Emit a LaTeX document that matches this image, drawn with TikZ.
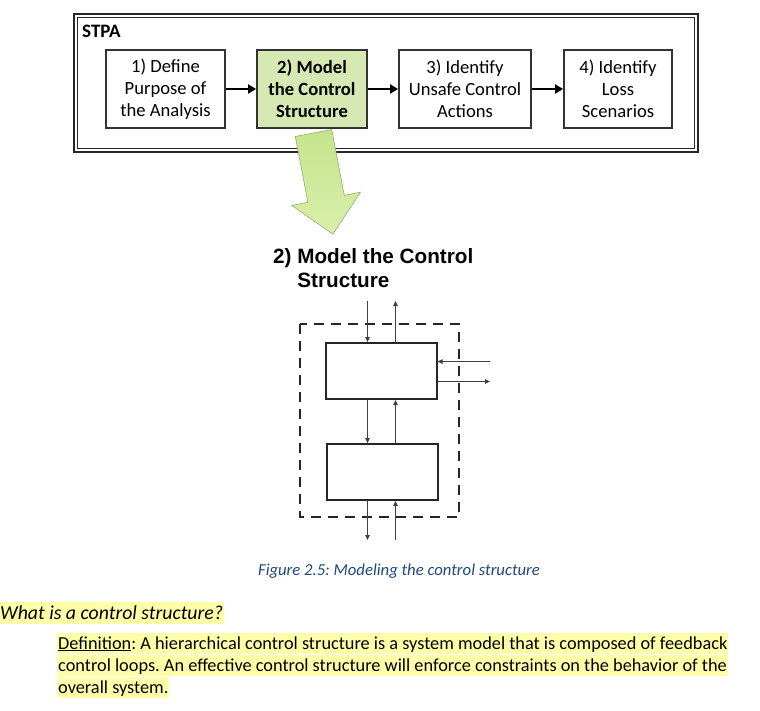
\documentclass[tikz,border=0pt]{standalone}
\usepackage{fontspec}
\setmainfont{Carlito}
\newfontfamily\headfont{Liberation Sans}
\usetikzlibrary{positioning, arrows.meta, calc}
\definecolor{stepgreen}{RGB}{214,233,178}
\definecolor{arrowgreen}{RGB}{198,228,140}
\definecolor{arrowgreenlt}{RGB}{216,239,172}
\definecolor{arrowedge}{RGB}{150,175,110}
\definecolor{captionblue}{RGB}{31,73,125}
\definecolor{hlyellow}{RGB}{255,255,170}
\frenchspacing

\begin{document}
\begin{tikzpicture}[x=1pt, y=-1pt,
  font=\fontsize{18.6}{22}\selectfont,
  phase/.style={draw=black!80, line width=1.8pt, minimum height=78pt,
    align=center, inner sep=0pt, fill=white},
  block/.style={draw=black!85, line width=1.8pt, minimum width=111pt,
    minimum height=56pt, inner sep=0pt},
  flow/.style={-{Triangle[length=8pt,width=9pt]}, line width=2.6pt},
  sig/.style={-{Triangle[length=5pt,width=4.5pt]}, line width=1.1pt, black!75},
  hl/.style={fill=hlyellow, inner xsep=1pt, inner ysep=0pt, text height=16pt,
    text depth=5pt, anchor=base west, font=\fontsize{18.3}{22}\selectfont},
]
  \useasboundingbox (0,0) rectangle (760,710);

  % STPA frame (double line)
  \draw[line width=2.4pt, black!85] (74,14) rectangle (698,152);
  \draw[line width=1.1pt, black!85] (77.5,17.5) rectangle (694.5,148.5);
  \node[font=\bfseries\fontsize{19}{22}\selectfont, anchor=base west, inner sep=0pt]
    (stpa) at (82,37) {STPA};

  % Four steps
  \node[phase, minimum width=119pt] (define) at (165.5,89)
    {1) Define\\Purpose of\\the Analysis};
  \node[phase, minimum width=110pt, fill=stepgreen, font=\bfseries\fontsize{18.6}{22}\selectfont]
    (model) at (312,89) {2) Model\\the Control\\Structure};
  \node[phase, minimum width=132pt] (unsafe) at (465,89)
    {3) Identify\\Unsafe Control\\Actions};
  \node[phase, minimum width=108pt] (loss) at (618,89)
    {4) Identify\\Loss\\Scenarios};
  \draw[flow] (define) -- (model);
  \draw[flow] (model) -- (unsafe);
  \draw[flow] (unsafe) -- (loss);

  % Big green arrow
  \draw[draw=arrowedge, top color=arrowgreen, bottom color=arrowgreenlt, line width=0.6pt]
    (295.3,136.5) -- (331.7,129.5) -- (344.3,195.3) -- (360.5,192.2)
    -- (332.9,234.1) -- (291.7,205.4) -- (307.9,202.3) -- cycle;

  % Heading
  \node[font=\headfont\bfseries\fontsize{20.7}{24}\selectfont, align=left,
    anchor=base west, inner sep=0pt] (title) at (273,287)
    {2) Model the Control\\\hphantom{2) }Structure};

  % Control structure
  \draw[dash pattern=on 10pt off 7pt, line width=2.6pt, black!85]
    (300,324) rectangle (459,517);
  \node[block] (ctrl) at (381.2,371) {};
  \node[block] (proc) at (382.6,472) {};

  \coordinate (ctrlin) at (367.5,301);
  \coordinate (ctrlout) at (395.5,301);
  \coordinate (procout) at (367.5,540);
  \coordinate (procin) at (395.5,540);
  \coordinate (extin) at (490,361.5);
  \coordinate (extout) at (490,381.5);

  \draw[sig] (ctrlin) -- (ctrlin |- ctrl.north);
  \draw[sig] (ctrlout |- ctrl.north) -- (ctrlout);
  \draw[sig] (ctrlin |- ctrl.south) -- (ctrlin |- proc.north);
  \draw[sig] (ctrlout |- proc.north) -- (ctrlout |- ctrl.south);
  \draw[sig] (procout |- proc.south) -- (procout);
  \draw[sig] (procin) -- (procin |- proc.south);
  \draw[sig] (extin) -- (extin -| ctrl.east);
  \draw[sig] (extout -| ctrl.east) -- (extout);

  % Caption and text
  \node[font=\itshape\fontsize{16.7}{20}\selectfont, text=captionblue]
    (caption) at (399,571) {Figure 2.5: Modeling the control structure};
  \node[hl, font=\itshape\fontsize{19.8}{22}\selectfont, text height=17pt]
    (question) at (-1,619) {What is a control structure?};
  \node[hl] (def1) at (57,649)
    {\underline{Definition}: A hierarchical control structure is a system model that is composed of feedback};
  \node[hl] (def2) at (57,671)
    {control loops. An effective control structure will enforce constraints on the behavior of the};
  \node[hl] (def3) at (57,693) {overall system.};
\end{tikzpicture}
\end{document}
